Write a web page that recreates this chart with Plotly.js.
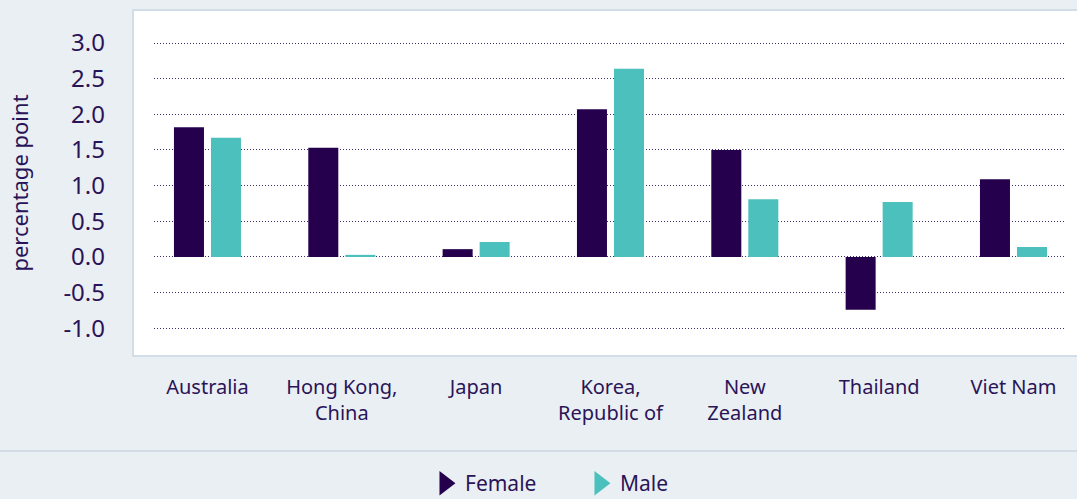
<!DOCTYPE html>
<html>
<head>
<meta charset="utf-8">
<script src="https://cdn.plot.ly/plotly-3.0.1.min.js"></script>
<style>html,body{margin:0;padding:0;background:#eaeff4;}</style>
</head>
<body>
<div id="chart" style="width:1077px;height:499px;"></div>
<script>
const categories = ["Australia", "Hong Kong,<br>China", "Japan", "Korea,<br>Republic of", "New<br>Zealand", "Thailand", "Viet Nam"];
const female = [1.82, 1.53, 0.11, 2.07, 1.50, -0.74, 1.09];
const male = [1.67, 0.03, 0.21, 2.64, 0.81, 0.77, 0.14];
const yTicks = [-1.0, -0.5, 0.0, 0.5, 1.0, 1.5, 2.0, 2.5, 3.0];

const textColor = '#2a1458';
const femaleColor = '#25004c';
const maleColor = '#4bc0bc';

const traces = [
  {type: 'bar', x: categories, y: female, name: 'Female', marker: {color: femaleColor}, showlegend: false, hoverinfo: 'skip'},
  {type: 'bar', x: categories, y: male, name: 'Male', marker: {color: maleColor}, showlegend: false, hoverinfo: 'skip'},
  {type: 'scatter', mode: 'markers', x: [null], y: [null], name: 'Female',
   marker: {symbol: 'triangle-right', size: 16, color: femaleColor, line: {color: femaleColor, width: 3}}},
  {type: 'scatter', mode: 'markers', x: [null], y: [null], name: 'Male',
   marker: {symbol: 'triangle-right', size: 16, color: maleColor, line: {color: maleColor, width: 3}}}
];

const layout = {
  width: 1077, height: 499,
  margin: {l: 154, r: 11, t: 10, b: 143, pad: 0},
  paper_bgcolor: '#eaeff4',
  plot_bgcolor: '#ffffff',
  font: {family: 'Noto Sans, sans-serif', color: textColor, size: 20},
  barmode: 'group',
  bargap: 0.449,
  bargroupgap: 0.189,
  xaxis: {
    type: 'category', automargin: false,
    range: [-0.398, 6.391],
    showgrid: false, zeroline: false, showline: false,
    ticks: '', tickfont: {size: 20, color: textColor},
    ticklabelstandoff: 17
  },
  yaxis: {
    automargin: false,
    range: [-1.388, 3.4626],
    tickvals: yTicks,
    ticktext: yTicks.map(v => v.toFixed(1)),
    showgrid: true, gridcolor: '#3d2c6e', griddash: '1px,2px', gridwidth: 1,
    zeroline: false, showline: false, ticks: '',
    tickfont: {size: 24, color: textColor},
    ticklabelstandoff: 48,
    title: {text: 'percentage point', font: {size: 22, color: textColor}, standoff: 28}
  },
  shapes: [
    {type: 'rect', xref: 'paper', yref: 'paper', x0: -0.023, x1: 1.02, y0: 0, y1: 1,
     fillcolor: '#ffffff', line: {color: '#d3dde8', width: 2}, layer: 'below'},
    {type: 'line', xref: 'paper', yref: 'paper', x0: -0.17, x1: 1.02, y0: -0.2746, y1: -0.2746,
     line: {color: '#d3dbe4', width: 2}}
  ],
  showlegend: true,
  legend: {
    orientation: 'h', xref: 'container', yref: 'container',
    x: 0.3946, xanchor: 'left', y: 0.072, yanchor: 'top',
    entrywidth: 110, entrywidthmode: 'pixels',
    font: {size: 21, color: textColor}, bgcolor: 'rgba(0,0,0,0)',
    itemclick: false, itemdoubleclick: false
  }
};

Plotly.newPlot('chart', traces, layout, {staticPlot: true, displayModeBar: false});
</script>
</body>
</html>
